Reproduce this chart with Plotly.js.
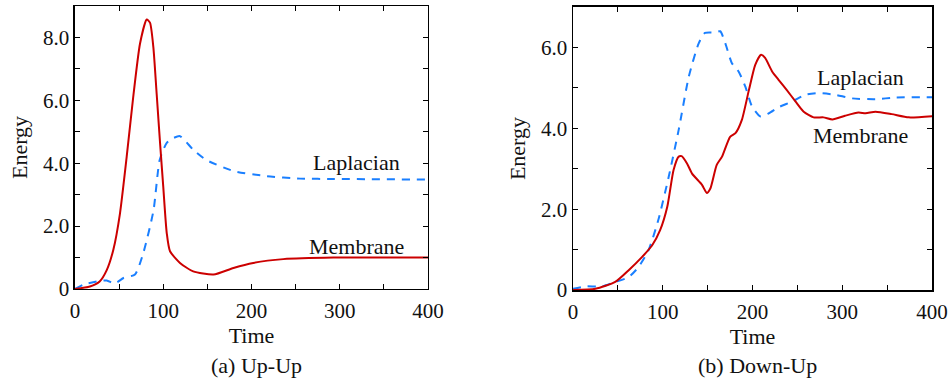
<!DOCTYPE html>
<html>
<head>
<meta charset="utf-8">
<script src="https://cdn.plot.ly/plotly-3.0.1.min.js"></script>
<style>html,body{margin:0;padding:0;background:#fff;}#chart{width:950px;height:380px;}</style>
</head>
<body>
<div id="chart"></div>
<script>
// (a) Up-Up
const upTimeMem = [0, 17, 28, 36, 43.5, 51, 58.6, 66, 73.7, 81.3, 85, 88.8, 92.6, 96.4, 100, 104, 107.7, 119, 134, 157, 179.6, 202, 236, 293, 400];
const upMembrane = [0, 0.08, 0.24, 0.6, 1.25, 2.4, 4.2, 6.1, 7.8, 8.57, 8.47, 7.7, 6.2, 4.65, 3.27, 1.78, 1.2, 0.83, 0.56, 0.46, 0.67, 0.83, 0.95, 1.0, 1.0];
const upTimeLap = [0, 9.5, 24.6, 36, 45, 55, 68, 77.5, 89, 96, 104, 111.5, 119, 134, 149, 180, 217, 255, 293, 400];
const upLaplacian = [0, 0.14, 0.24, 0.27, 0.17, 0.35, 0.46, 1.15, 2.5, 4.1, 4.65, 4.8, 4.86, 4.43, 4.1, 3.75, 3.59, 3.51, 3.5, 3.48];

// (b) Down-Up
const downTimeMem = [0, 25, 47, 62, 77, 88, 97, 105, 112, 117.7, 121, 127, 132.6, 143.7, 149, 153, 160, 166, 175, 181, 188, 196, 203, 209.5, 214, 222, 229, 238, 248, 257, 268, 279, 289, 303, 318, 326, 337, 355, 374, 400];
const downMembrane = [0, 0.03, 0.2, 0.49, 0.82, 1.1, 1.48, 2.06, 2.97, 3.3, 3.31, 3.13, 2.88, 2.6, 2.4, 2.51, 3.09, 3.3, 3.79, 3.88, 4.2, 4.95, 5.57, 5.82, 5.74, 5.4, 5.2, 4.95, 4.66, 4.41, 4.27, 4.27, 4.22, 4.31, 4.39, 4.37, 4.41, 4.35, 4.27, 4.3];
const downTimeLap = [0, 14, 32, 47, 62, 73, 84, 95, 106.6, 117.7, 129, 140, 147, 158.6, 164, 169.7, 177, 184.6, 192, 199.4, 209, 218, 229, 244, 259, 274, 292, 311, 337, 359, 400];
const downLaplacian = [0.03, 0.09, 0.09, 0.2, 0.32, 0.57, 0.98, 1.73, 2.8, 3.96, 5.28, 6.1, 6.36, 6.37, 6.4, 6.1, 5.61, 5.4, 5.03, 4.54, 4.29, 4.37, 4.52, 4.66, 4.83, 4.87, 4.83, 4.74, 4.72, 4.76, 4.77];

const xTickVals = [0, 100, 200, 300, 400];
const xTickText = ['0', '100', '200', '300', '400'];
const yTickValsA = [0, 2, 4, 6, 8];
const yTickTextA = ['0', '2.0', '4.0', '6.0', '8.0'];
const yTickValsB = [0, 2, 4, 6];
const yTickTextB = ['0', '2.0', '4.0', '6.0'];
const subTitles = ['(a) Up-Up', '(b) Down-Up'];

const RED = '#cc0000', BLUE = '#1a7fff';
const FONT = '"Liberation Serif", "DejaVu Serif", serif';

const traces = [
  {x: upTimeLap, y: upLaplacian, xaxis: 'x', yaxis: 'y', mode: 'lines', name: 'Laplacian',
   line: {color: BLUE, width: 2, dash: '8px,7px', shape: 'spline', smoothing: 0.6}},
  {x: upTimeMem, y: upMembrane, xaxis: 'x', yaxis: 'y', mode: 'lines', name: 'Membrane',
   line: {color: RED, width: 2, shape: 'spline', smoothing: 0.6}},
  {x: downTimeLap, y: downLaplacian, xaxis: 'x2', yaxis: 'y2', mode: 'lines', name: 'Laplacian',
   line: {color: BLUE, width: 2, dash: '8px,7px', shape: 'spline', smoothing: 0.6}},
  {x: downTimeMem, y: downMembrane, xaxis: 'x2', yaxis: 'y2', mode: 'lines', name: 'Membrane',
   line: {color: RED, width: 2, shape: 'spline', smoothing: 0.6}}
];

function xax(domain, anchor) {
  return {domain: domain, anchor: anchor, range: [0, 400], tickvals: xTickVals, ticktext: xTickText,
    ticks: 'inside', ticklen: 5, tickwidth: 1, tickcolor: '#000', showline: true, linecolor: '#000', linewidth: 1.5,
    mirror: 'ticks', showgrid: false, zeroline: false, ticklabelstandoff: 2,
    minor: {dtick: 50, ticks: 'inside', ticklen: 5, tickcolor: '#000', showgrid: false},
    title: {text: 'Time', font: {family: FONT, size: 22, color: '#111'}, standoff: 6},
    tickfont: {family: FONT, size: 21, color: '#111'}};
}
function yax(domain, anchor, top, vals, text) {
  return {domain: domain, anchor: anchor, range: [0, top], tickvals: vals, ticktext: text,
    ticks: 'inside', ticklen: 5, tickwidth: 1, tickcolor: '#000', showline: true, linecolor: '#000', linewidth: 1.5,
    mirror: 'ticks', showgrid: false, zeroline: false,
    minor: {dtick: 1, ticks: 'inside', ticklen: 5, tickcolor: '#000', showgrid: false},
    title: {text: 'Energy', font: {family: FONT, size: 22, color: '#111'}, standoff: 9},
    tickfont: {family: FONT, size: 21, color: '#111'}};
}

const labelFont = {family: FONT, size: 22, color: '#111'};
const subY = (380 - 365) / 380;
const layout = {
  width: 950, height: 380, showlegend: false,
  margin: {l: 0, r: 0, t: 0, b: 0},
  paper_bgcolor: '#fff', plot_bgcolor: '#fff',
  xaxis: xax([0.0789, 0.4505], 'y'),
  yaxis: yax([0.2395, 0.9842], 'x', 9, yTickValsA, yTickTextA),
  xaxis2: xax([0.6032, 0.9811], 'y2'),
  yaxis2: yax([0.2368, 0.9816], 'x2', 7, yTickValsB, yTickTextB),
  annotations: [
    {x: 319, y: 4.03, xref: 'x', yref: 'y', text: 'Laplacian', showarrow: false, font: labelFont},
    {x: 319, y: 1.36, xref: 'x', yref: 'y', text: 'Membrane', showarrow: false, font: labelFont},
    {x: 320, y: 5.26, xref: 'x2', yref: 'y2', text: 'Laplacian', showarrow: false, font: labelFont},
    {x: 320, y: 3.81, xref: 'x2', yref: 'y2', text: 'Membrane', showarrow: false, font: labelFont},
    {x: 0.515, y: subY, xref: 'x domain', yref: 'paper', yanchor: 'middle', text: subTitles[0], showarrow: false, font: labelFont},
    {x: 0.515, y: subY, xref: 'x2 domain', yref: 'paper', yanchor: 'middle', text: subTitles[1], showarrow: false, font: labelFont}
  ]
};

Plotly.newPlot('chart', traces, layout, {displayModeBar: false, staticPlot: true});
</script>
</body>
</html>
